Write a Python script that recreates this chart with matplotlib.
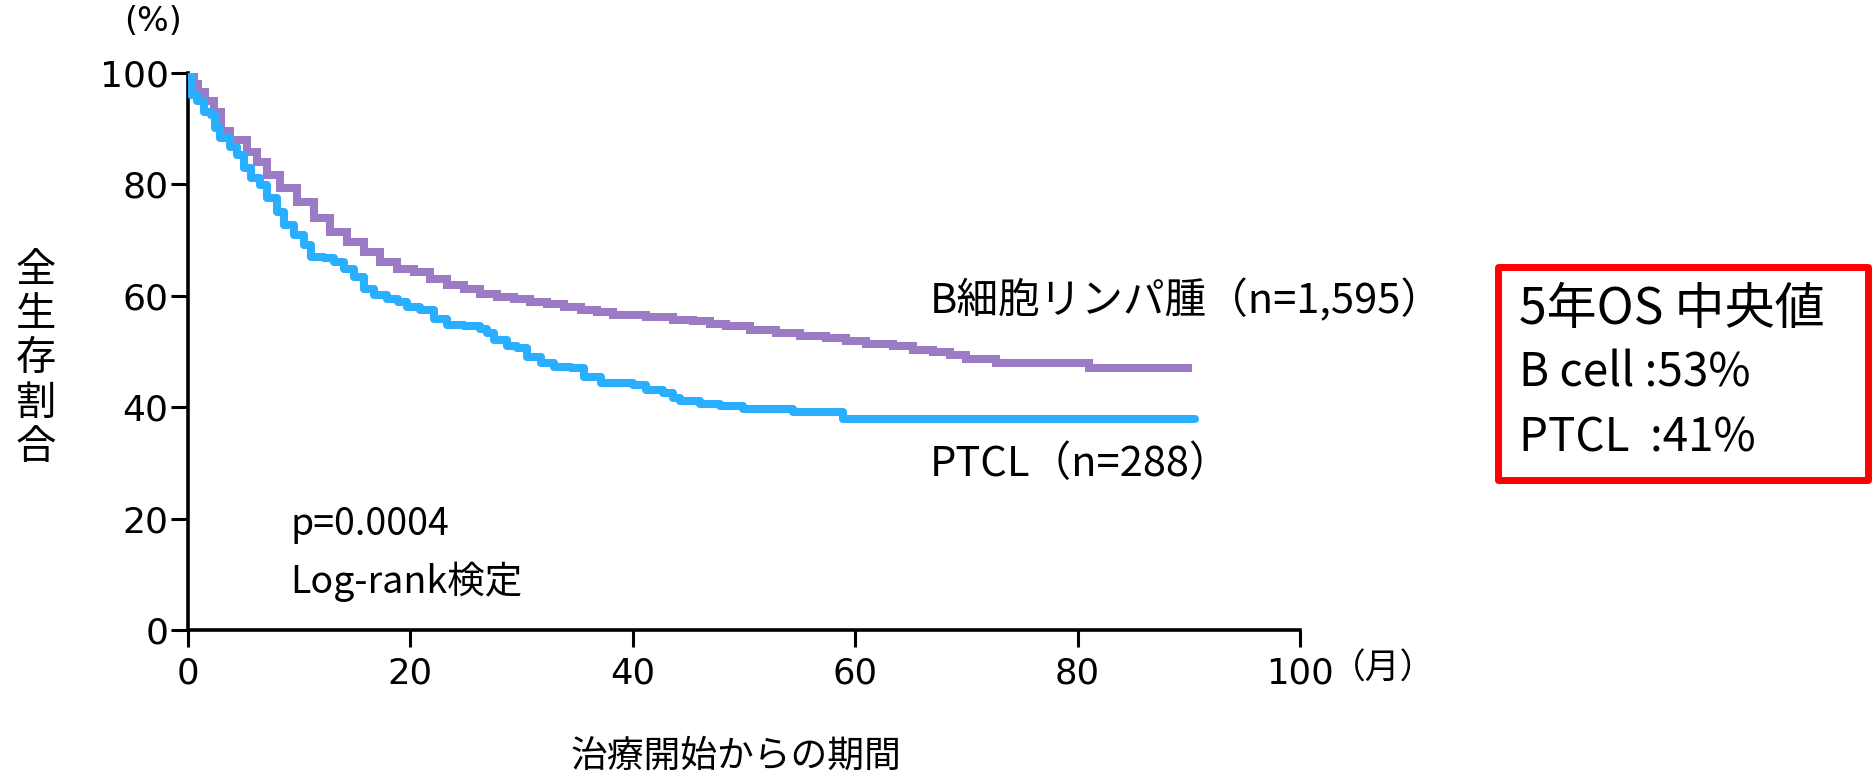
import matplotlib
matplotlib.use("Agg")
import matplotlib.pyplot as plt
from matplotlib.patches import Rectangle

plt.rcParams['font.family'] = ['Noto Sans CJK JP', 'DejaVu Sans']

# ---- data ----
b_time = [0, 0.5, 0.9, 1.5, 2.3, 3.0, 3.8, 5.3, 6.2, 7.1, 8.3, 9.8, 11.3, 12.8, 14.3,
          15.8, 17.3, 18.8, 20.3, 21.8, 23.3, 24.8, 26.3, 27.8, 29.3, 30.8, 32.3,
          33.8, 35.3, 36.8, 38.2, 41.2, 43.6, 45.4, 46.9, 48.4, 50.5, 52.9, 55.0,
          57.4, 59.2, 61.0, 63.4, 65.2, 67.0, 68.5, 70.0, 72.7, 81.0, 90.3]
b_surv = [100, 98, 96.6, 94.9, 93, 89.5, 88, 85.9, 84.1, 81.7, 79.3, 76.9, 73.9, 71.5,
          69.7, 67.9, 66.1, 64.9, 64.3, 63.1, 61.9, 61.3, 60.4, 59.8, 59.5, 58.9,
          58.6, 58.0, 57.4, 57.1, 56.5, 56.2, 55.7, 55.4, 55.0, 54.6, 53.9, 53.3,
          52.7, 52.4, 51.8, 51.4, 50.9, 50.3, 49.9, 49.3, 48.6, 48.0, 47.1, 47.1]

p_time = [0, 0.3, 0.8, 1.4, 2.1, 2.4, 2.9, 3.8, 4.4, 5.0, 5.7, 6.5, 7.1, 8.0, 8.6, 9.5,
          10.4, 11.1, 12.2, 13.1, 14.0, 14.9, 15.8, 16.7, 17.9, 18.9, 19.7, 20.9,
          22.1, 23.3, 24.8, 26.3, 26.9, 27.5, 28.7, 29.6, 30.5, 31.7, 32.9, 34.4,
          35.6, 37.1, 40.0, 41.2, 42.7, 43.6, 44.2, 46.0, 47.8, 49.9, 54.4, 58.9, 90.6]
p_surv = [100, 96, 94.9, 93, 92.5, 90.1, 88.3, 86.8, 85.3, 82.9, 81.1, 79.9, 77.5,
          75.1, 72.7, 70.9, 69.1, 67.0, 66.7, 66.1, 64.9, 63.4, 61.3, 60.1, 59.5,
          58.8, 58.0, 57.4, 55.9, 54.8, 54.5, 54.0, 53.3, 52.1, 50.9, 50.6, 49.1,
          47.9, 47.3, 47.0, 45.5, 44.3, 44.0, 43.1, 42.5, 41.7, 41.1, 40.5, 40.2,
          39.7, 39.1, 37.9, 37.9]

x_ticks = [0, 20, 40, 60, 80, 100]
y_ticks = [0, 20, 40, 60, 80, 100]

b_label = "B細胞リンパ腫（n=1,595）"
p_label = "PTCL（n=288）"
box_lines = ["5年OS 中央値", "B cell :53%", "PTCL  :41%"]

W, H = 1875, 778
fig = plt.figure(figsize=(W / 100, H / 100), dpi=100)
ax = fig.add_axes([188 / W, (H - 630) / H, (1300 - 188) / W, (630 - 73) / H])

ax.plot(b_time, b_surv, drawstyle='steps-post', color='#9b7cc4', lw=5.8,
        solid_joinstyle='miter', solid_capstyle='butt', zorder=3)
ax.plot(p_time, p_surv, drawstyle='steps-post', color='#2aaeff', lw=5.8,
        solid_joinstyle='round', solid_capstyle='round', zorder=4)

ax.set_xlim(0, 100)
ax.set_ylim(0, 100)
ax.set_xticks(x_ticks)
ax.set_yticks(y_ticks)
ax.set_xticklabels([str(v) for v in x_ticks], fontsize=25.5, family='DejaVu Sans')
ax.set_yticklabels([str(v) for v in y_ticks], fontsize=26, family='DejaVu Sans')
for s in ['top', 'right']:
    ax.spines[s].set_visible(False)
for s in ['left', 'bottom']:
    ax.spines[s].set_linewidth(2.6)
ax.tick_params(axis='both', length=12, width=2.2, direction='out')
ax.tick_params(axis='y', pad=2)
ax.tick_params(axis='x', pad=7)

ax.text(66.7, 59.1, b_label, fontsize=30, va='center', ha='left')
ax.text(66.7, 29.8, p_label, fontsize=30, va='center', ha='left')
ax.text(9.2, 19.0, "p=0.0004", fontsize=27, va='center', ha='left')
ax.text(9.2, 8.6, "Log-rank検定", fontsize=27, va='center', ha='left')

fig.text(153 / W, 1 - 21.5 / H, "(%)", fontsize=24, ha='center', va='center',
         family='DejaVu Sans')
fig.text(36 / W, 1 - 359 / H, "\n".join("全生存割合"), fontsize=29, ha='center',
         va='center', linespacing=1.1)
fig.text(735.5 / W, 1 - 756 / H, "治療開始からの期間", fontsize=26.5, ha='center',
         va='center')
fig.text(1331 / W, 1 - 669 / H, "（月）", fontsize=25, ha='left', va='center')

rect = Rectangle((1498 / W, 1 - 480 / H), 370 / W, 213.5 / H, transform=fig.transFigure,
                 fill=False, edgecolor='#ff0000', lw=5, joinstyle='round')
fig.add_artist(rect)
for txt, yc, fs in zip(box_lines, [310, 373, 438], [36, 33, 33]):
    fig.text(1519 / W, 1 - yc / H, txt, fontsize=fs, ha='left', va='center')

fig.savefig("out.png", dpi=100, facecolor='white')
